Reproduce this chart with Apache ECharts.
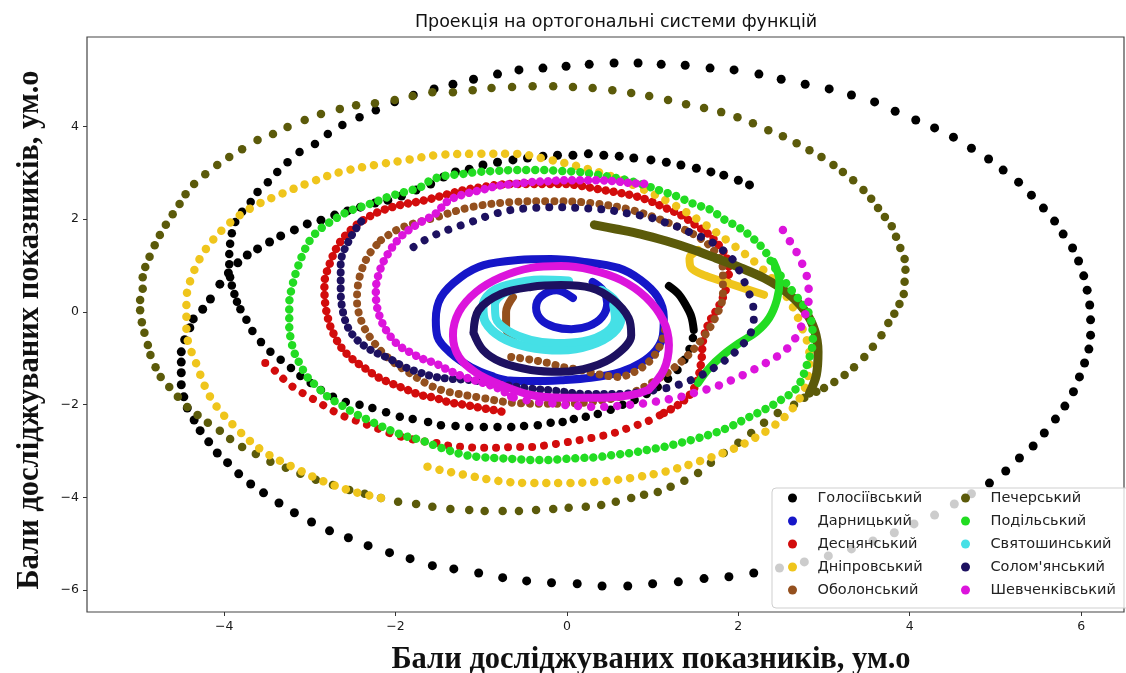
<!DOCTYPE html>
<html><head><meta charset="utf-8">
<script src="https://cdn.jsdelivr.net/npm/echarts@6/dist/echarts.min.js"></script>
<style>html,body{margin:0;padding:0;background:#fff}#c{width:1126px;height:673px}</style>
</head><body><div id="c"></div>
<script>
const districts = ['Голосіївський','Дарницький','Деснянський','Дніпровський','Оболонський','Печерський','Подільський','Святошинський',"Солом'янський",'Шевченківський'];
const colors = ['#000000','#1616c8','#d20c0c','#efc51c','#94501e','#5b5a0a','#22dc22','#45e0e6','#1d1160','#dc14dc'];
const xTicks = [-4,-2,0,2,4,6];
const yTicks = [-6,-4,-2,0,2,4];

// Голосіївський
const blackOuter = [[-1.55,4.81],[-1.33,4.91],[-1.09,5.02],[-0.81,5.13],[-0.56,5.22],[-0.28,5.26],[-0.01,5.30],[0.26,5.34],[0.55,5.37],[0.83,5.37],[1.10,5.34],[1.38,5.32],[1.67,5.26],[1.95,5.22],[2.24,5.13],[2.50,5.02],[2.78,4.91],[3.06,4.81],[3.32,4.68],[3.59,4.53],[3.83,4.33],[4.07,4.14],[4.29,3.97],[4.51,3.77],[4.72,3.53],[4.92,3.30],[5.09,3.06],[5.27,2.80],[5.42,2.52],[5.56,2.24],[5.69,1.96],[5.79,1.68],[5.90,1.38],[5.97,1.10],[6.03,0.78],[6.07,0.47],[6.10,0.15],[6.11,-0.17],[6.11,-0.50],[6.09,-0.80],[6.04,-1.10],[5.98,-1.40],[5.91,-1.72],[5.81,-2.03],[5.70,-2.31],[5.57,-2.61],[5.44,-2.89],[5.28,-3.15],[5.12,-3.43],[4.93,-3.69],[4.72,-3.92],[4.52,-4.14],[4.29,-4.38],[4.05,-4.57],[3.82,-4.76],[3.57,-4.94],[3.32,-5.11],[3.05,-5.26],[2.77,-5.39],[2.48,-5.52],[2.18,-5.63],[1.89,-5.71],[1.60,-5.75],[1.30,-5.82],[1.00,-5.86],[0.71,-5.91],[0.41,-5.91],[0.12,-5.86],[-0.18,-5.84],[-0.47,-5.80],[-0.75,-5.73],[-1.03,-5.63],[-1.32,-5.54],[-1.57,-5.47],[-1.83,-5.32],[-2.07,-5.19],[-2.32,-5.04],[-2.55,-4.87],[-2.77,-4.72],[-2.98,-4.53],[-3.18,-4.33],[-3.36,-4.12],[-3.54,-3.90],[-3.69,-3.71],[-3.83,-3.49],[-3.96,-3.25],[-4.08,-3.04],[-4.18,-2.80],[-4.28,-2.56],[-4.35,-2.33],[-4.43,-2.07],[-4.47,-1.83],[-4.50,-1.57],[-4.50,-1.31],[-4.50,-1.08],[-4.50,-0.86],[-4.46,-0.60],[-4.40,-0.34],[-4.36,-0.15],[-4.25,0.06],[-4.16,0.28],[-4.05,0.60],[-3.95,0.84],[-3.84,1.06],[-3.73,1.23],[-3.61,1.36],[-3.47,1.51],[-3.34,1.64],[-3.18,1.77],[-3.03,1.90],[-2.87,1.98],[-2.71,2.09],[-2.56,2.18],[-2.41,2.26],[-2.24,2.35],[-2.09,2.41],[-1.93,2.50],[-1.76,2.63],[-1.59,2.76],[-1.44,2.91],[-1.30,3.02],[-1.14,3.08],[-0.98,3.17],[-0.81,3.23],[-0.63,3.28],[-0.46,3.32],[-0.28,3.36],[-0.11,3.38],[0.07,3.38],[0.25,3.41],[0.43,3.38],[0.61,3.36],[0.78,3.32],[0.98,3.28],[1.16,3.23],[1.33,3.17],[1.51,3.10],[1.68,3.02],[1.83,2.95],[2.00,2.84],[2.13,2.74]];
const blackInner = [[-1.79,4.68],[-2.01,4.53],[-2.23,4.35],[-2.42,4.20],[-2.62,4.03],[-2.79,3.84],[-2.94,3.62],[-3.12,3.45],[-3.26,3.23],[-3.38,3.02],[-3.49,2.80],[-3.61,2.59],[-3.69,2.37],[-3.79,2.16],[-3.87,1.94],[-3.91,1.70],[-3.93,1.47],[-3.94,1.25],[-3.94,1.03],[-3.93,0.75],[-3.91,0.57],[-3.88,0.39],[-3.85,0.22],[-3.81,0.06],[-3.74,-0.17],[-3.67,-0.41],[-3.57,-0.65],[-3.46,-0.86],[-3.34,-1.03],[-3.22,-1.21],[-3.11,-1.38],[-2.99,-1.53],[-2.87,-1.68],[-2.73,-1.83],[-2.58,-1.94],[-2.42,-2.00],[-2.27,-2.07],[-2.11,-2.16],[-1.95,-2.26],[-1.80,-2.31],[-1.62,-2.37],[-1.47,-2.44],[-1.30,-2.46],[-1.14,-2.48],[-0.97,-2.48],[-0.81,-2.48],[-0.65,-2.48],[-0.50,-2.46],[-0.34,-2.44],[-0.19,-2.39],[-0.05,-2.37],[0.08,-2.31],[0.22,-2.26],[0.36,-2.20],[0.51,-2.11],[0.65,-2.00],[0.79,-1.90],[0.93,-1.77],[1.06,-1.62],[1.18,-1.44],[1.29,-1.25],[1.37,-1.03],[1.43,-0.80],[1.47,-0.56]];
const blackCore = [[1.48,-0.39],[1.45,-0.09],[1.38,0.17],[1.30,0.39],[1.19,0.56]];

// Дарницький
const blueOuter = [[-0.71,-1.47],[-0.85,-1.40],[-1.12,-1.19],[-1.36,-0.88],[-1.51,-0.54],[-1.53,-0.17],[-1.47,0.32],[-1.24,0.75],[-0.97,1.01],[-0.57,1.12],[-0.19,1.14],[0.20,1.08],[0.60,0.95],[0.86,0.69],[1.06,0.32],[1.13,-0.11],[1.12,-0.50],[1.04,-0.82],[0.86,-1.10],[0.63,-1.29],[0.28,-1.42],[-0.07,-1.47],[-0.42,-1.49],[-0.71,-1.47]];
const blueInner = [[0.07,0.30],[-0.12,0.47],[-0.30,0.34],[-0.36,0.09],[-0.30,-0.17],[-0.15,-0.32],[0.05,-0.37],[0.26,-0.30],[0.41,-0.11],[0.47,0.19],[0.42,0.47],[0.30,0.65]];

// Деснянський
const redOuter = [[-3.52,-1.10],[-3.38,-1.31],[-3.26,-1.53],[-3.11,-1.72],[-2.94,-1.90],[-2.79,-2.07],[-2.64,-2.22],[-2.48,-2.33],[-2.32,-2.44],[-2.17,-2.54],[-2.01,-2.65],[-1.86,-2.72],[-1.71,-2.78],[-1.54,-2.82],[-1.36,-2.89],[-1.18,-2.91],[-1.00,-2.93],[-0.81,-2.93],[-0.62,-2.91],[-0.42,-2.91],[-0.22,-2.87],[-0.04,-2.82],[0.16,-2.76],[0.36,-2.69],[0.55,-2.61],[0.75,-2.48],[0.95,-2.35],[1.13,-2.18]];
const redInner = [[1.13,-2.18],[1.30,-2.00],[1.45,-1.75],[1.53,-1.42],[1.57,-1.03],[1.59,-0.60],[1.66,-0.22],[1.78,0.15],[1.87,0.58],[1.89,0.91],[1.86,1.19],[1.76,1.47],[1.65,1.68],[1.48,1.90],[1.33,2.09],[1.13,2.26],[0.95,2.41],[0.75,2.52],[0.55,2.59],[0.36,2.65],[0.16,2.72],[-0.04,2.76],[-0.22,2.76],[-0.42,2.76],[-0.62,2.76],[-0.81,2.74],[-1.00,2.69],[-1.20,2.63],[-1.39,2.54],[-1.59,2.44],[-1.76,2.37],[-1.94,2.31],[-2.17,2.18],[-2.36,2.00],[-2.52,1.77],[-2.66,1.47],[-2.77,1.03],[-2.83,0.60],[-2.82,0.17],[-2.77,-0.26],[-2.71,-0.52],[-2.64,-0.75],[-2.52,-0.99],[-2.36,-1.21],[-2.21,-1.40],[-2.06,-1.53],[-1.86,-1.68],[-1.71,-1.79],[-1.54,-1.85],[-1.39,-1.94],[-1.20,-2.00],[-1.00,-2.07],[-0.81,-2.13],[-0.69,-2.18]];

// Дніпровський
const yellowOuter = [[-2.17,-4.01],[-2.48,-3.88],[-2.83,-3.66],[-3.18,-3.36],[-3.53,-3.02],[-3.84,-2.54],[-4.14,-1.90],[-4.32,-1.14],[-4.44,-0.39],[-4.44,0.26],[-4.37,0.80],[-4.22,1.34],[-3.96,1.88],[-3.67,2.26],[-3.34,2.54],[-2.99,2.80],[-2.64,3.02],[-2.24,3.17],[-1.86,3.28],[-1.53,3.38],[-1.06,3.41],[-0.60,3.41],[-0.25,3.30],[0.11,3.15],[0.51,2.93],[0.86,2.67],[1.21,2.35],[1.57,1.94],[1.92,1.47],[2.27,0.95],[2.56,0.34],[2.73,-0.28],[2.83,-0.93],[2.79,-1.57],[2.62,-2.11],[2.38,-2.50],[2.11,-2.80],[1.92,-2.97],[1.53,-3.23],[1.13,-3.45],[0.75,-3.58],[0.36,-3.66],[-0.04,-3.69],[-0.42,-3.69],[-0.81,-3.64],[-1.20,-3.51],[-1.47,-3.41],[-1.66,-3.32]];
const yellowHook = [[1.53,1.34],[1.43,1.16],[1.45,0.95],[1.62,0.78],[1.92,0.60],[2.30,0.37]];

// Оболонський
const brownOuter = [[-2.17,1.55],[-1.94,1.81],[-1.55,2.03],[-1.12,2.26],[-0.65,2.37],[-0.19,2.39],[0.28,2.35],[0.75,2.20],[1.16,1.94],[1.51,1.64],[1.71,1.34],[1.82,0.91],[1.82,0.37],[1.73,-0.13],[1.57,-0.60],[1.33,-1.08],[1.04,-1.47],[0.69,-1.79],[0.28,-1.94],[-0.19,-1.98],[-0.62,-1.96],[-1.00,-1.85],[-1.39,-1.72],[-1.59,-1.59],[-1.86,-1.29],[-2.06,-1.03],[-2.23,-0.71],[-2.38,-0.28],[-2.45,0.26],[-2.42,0.75],[-2.32,1.21],[-2.17,1.55]];
const brownRow = [[-0.65,-0.97],[-0.42,-1.03],[-0.22,-1.10],[-0.04,-1.19],[0.16,-1.25],[0.36,-1.34],[0.60,-1.40],[0.81,-1.27],[0.98,-1.03],[1.10,-0.67],[1.16,-0.22]];
const brownArc = [[-0.63,0.32],[-0.71,0.00],[-0.71,-0.34],[-0.63,-0.62]];

// Печерський
const oliveOuter = [[-1.57,4.74],[-1.80,4.66],[-2.01,4.57],[-2.24,4.50],[-2.46,4.46],[-2.65,4.38],[-2.87,4.27],[-3.06,4.14],[-3.26,3.99],[-3.43,3.84],[-3.61,3.71],[-3.79,3.51],[-3.94,3.34],[-4.08,3.17],[-4.22,2.97],[-4.35,2.76],[-4.45,2.54],[-4.52,2.33],[-4.60,2.11],[-4.68,1.88],[-4.75,1.66],[-4.81,1.44],[-4.87,1.19],[-4.92,0.97],[-4.95,0.75],[-4.95,0.50],[-4.98,0.26],[-4.98,0.04],[-4.96,-0.22],[-4.93,-0.45],[-4.89,-0.71],[-4.86,-0.93],[-4.80,-1.19],[-4.74,-1.40],[-4.64,-1.62],[-4.54,-1.83],[-4.43,-2.05],[-4.31,-2.22],[-4.19,-2.39],[-4.05,-2.56],[-3.93,-2.74],[-3.79,-2.91],[-3.63,-3.06],[-3.46,-3.23],[-3.28,-3.36],[-3.11,-3.49],[-2.93,-3.62],[-2.73,-3.73],[-2.54,-3.84],[-2.36,-3.92],[-2.17,-4.01],[-1.97,-4.09],[-1.76,-4.14],[-1.57,-4.20],[-1.36,-4.25],[-1.14,-4.27],[-0.96,-4.29],[-0.75,-4.29],[-0.56,-4.29],[-0.36,-4.27],[-0.16,-4.25],[0.02,-4.22],[0.22,-4.20],[0.40,-4.16],[0.57,-4.09],[0.75,-4.01],[0.90,-3.94],[1.06,-3.88],[1.21,-3.77],[1.37,-3.64],[1.53,-3.47],[1.68,-3.25],[1.83,-3.04],[2.00,-2.82],[2.15,-2.61],[2.30,-2.39],[2.46,-2.18],[2.65,-2.00],[2.77,-1.85],[2.91,-1.72],[3.00,-1.64],[3.12,-1.51],[3.24,-1.36],[3.35,-1.19],[3.47,-0.97],[3.57,-0.75],[3.67,-0.50],[3.75,-0.24],[3.82,-0.04],[3.88,0.17],[3.93,0.39],[3.94,0.65],[3.95,0.91],[3.94,1.14],[3.89,1.38],[3.84,1.62],[3.79,1.85],[3.71,2.05],[3.63,2.24],[3.55,2.44],[3.46,2.63],[3.34,2.84],[3.22,3.02],[3.11,3.17],[2.97,3.34],[2.83,3.49],[2.68,3.64],[2.52,3.79],[2.35,3.92],[2.17,4.07],[1.99,4.20],[1.80,4.31],[1.60,4.40],[1.39,4.48],[1.18,4.57],[0.96,4.66],[0.75,4.72],[0.53,4.78],[0.30,4.83],[0.07,4.85],[-0.16,4.87],[-0.40,4.87],[-0.64,4.85],[-0.88,4.83],[-1.10,4.78],[-1.33,4.74]];
const oliveCore = [[0.32,1.88],[0.57,1.79],[0.86,1.68],[1.16,1.53],[1.45,1.36],[1.74,1.16],[2.03,0.95],[2.30,0.73],[2.56,0.43],[2.77,0.04],[2.89,-0.39],[2.93,-0.86],[2.91,-1.36],[2.83,-1.75]];

// Подільський
const greenOuter = [[2.62,0.47],[2.42,0.97],[2.30,1.34],[2.15,1.62],[2.00,1.83],[1.83,2.00],[1.68,2.20],[1.48,2.33],[1.30,2.48],[1.10,2.61],[0.90,2.74],[0.71,2.84],[0.51,2.91],[0.32,2.97],[0.13,3.02],[-0.07,3.04],[-0.27,3.06],[-0.46,3.06],[-0.65,3.06],[-0.85,3.04],[-1.04,3.02],[-1.24,2.97],[-1.44,2.93],[-1.59,2.84],[-1.71,2.69],[-1.89,2.59],[-2.09,2.48],[-2.24,2.37],[-2.41,2.26],[-2.56,2.16],[-2.71,2.00],[-2.85,1.83],[-2.97,1.62],[-3.06,1.34],[-3.14,0.97],[-3.20,0.60],[-3.24,0.17],[-3.24,-0.32],[-3.22,-0.60],[-3.18,-0.88],[-3.11,-1.14],[-3.03,-1.40],[-2.91,-1.62],[-2.79,-1.83],[-2.64,-2.00],[-2.48,-2.18],[-2.32,-2.33],[-2.17,-2.46],[-2.01,-2.59],[-1.86,-2.69],[-1.71,-2.76],[-1.47,-2.93],[-1.20,-3.08],[-1.00,-3.13],[-0.81,-3.15],[-0.62,-3.17],[-0.42,-3.19],[-0.22,-3.19],[-0.04,-3.17],[0.16,-3.15],[0.36,-3.13],[0.55,-3.08],[0.75,-3.04],[0.95,-2.97],[1.13,-2.91],[1.33,-2.82],[1.53,-2.72],[1.72,-2.61],[1.92,-2.46],[2.11,-2.28],[2.30,-2.11],[2.46,-1.94],[2.68,-1.64],[2.80,-1.14],[2.87,-0.60],[2.83,-0.06],[2.71,0.26],[2.62,0.47]];
const greenInner = [[1.53,-1.53],[1.66,-1.21],[1.82,-0.93],[2.01,-0.67],[2.21,-0.43],[2.36,-0.13],[2.45,0.26],[2.48,0.65],[2.41,1.08]];

// Святошинський
const cyanOuter = [[0.40,0.47],[0.57,0.22],[0.63,-0.13],[0.54,-0.45],[0.28,-0.71],[-0.07,-0.82],[-0.46,-0.75],[-0.77,-0.54],[-0.95,-0.22],[-0.98,0.11],[-0.89,0.41],[-0.69,0.58],[-0.30,0.69],[0.02,0.67]];
const cyanInner = [[0.54,0.15],[0.56,-0.13],[0.46,-0.43],[0.19,-0.63],[-0.13,-0.67],[-0.42,-0.60],[-0.68,-0.41],[-0.83,-0.13],[-0.84,0.15],[-0.76,0.37],[-0.60,0.50]];

// Солом'янський
const indigoTop = [[-1.79,1.40],[-1.59,1.62],[-1.36,1.79],[-1.12,1.94],[-0.89,2.09],[-0.65,2.20],[-0.42,2.24],[-0.22,2.26],[-0.04,2.26],[0.16,2.24],[0.36,2.22],[0.55,2.18],[0.75,2.11],[0.95,2.05],[1.13,1.94],[1.30,1.83],[1.48,1.68],[1.65,1.55],[1.80,1.36],[1.94,1.12],[2.03,0.82],[2.11,0.47],[2.17,0.17],[2.18,-0.17],[2.13,-0.50],[2.00,-0.80],[1.80,-1.10],[1.53,-1.40],[1.21,-1.62],[0.90,-1.72]];
const indigoBottom = [[0.90,-1.72],[0.57,-1.77],[0.22,-1.77],[-0.13,-1.70],[-0.48,-1.64],[-0.81,-1.55],[-1.12,-1.47],[-1.36,-1.44],[-1.54,-1.40],[-1.71,-1.31],[-1.89,-1.19],[-2.09,-0.99],[-2.29,-0.82],[-2.48,-0.54],[-2.59,-0.17],[-2.64,0.47],[-2.64,1.03],[-2.52,1.62],[-2.36,2.05]];
const indigoInner = [[-1.09,-0.45],[-1.03,0.04],[-0.77,0.39],[-0.42,0.54],[-0.07,0.58],[0.28,0.52],[0.54,0.26],[0.72,-0.13],[0.75,-0.50],[0.57,-0.93],[0.28,-1.19],[-0.07,-1.29],[-0.42,-1.25],[-0.77,-1.08],[-0.98,-0.82],[-1.09,-0.45]];

// Шевченківський
const magentaOuter = [[2.52,1.77],[2.62,1.47],[2.71,1.19],[2.77,0.91],[2.82,0.60],[2.82,0.26],[2.77,-0.11],[2.70,-0.45],[2.59,-0.75],[2.46,-0.95],[2.30,-1.12],[2.11,-1.31],[1.92,-1.47],[1.72,-1.62],[1.53,-1.72],[1.33,-1.83],[1.13,-1.90],[0.95,-1.96],[0.75,-2.00],[0.55,-2.03],[0.36,-2.05],[0.16,-2.03],[-0.04,-2.00],[-0.22,-1.96],[-0.42,-1.92],[-0.65,-1.83]];
const magentaRing = [[-0.65,-1.83],[-0.81,-1.64],[-1.20,-1.40],[-1.41,-1.23],[-1.54,-1.10],[-1.66,-1.03],[-1.82,-0.88],[-1.97,-0.71],[-2.09,-0.45],[-2.17,-0.17],[-2.22,0.15],[-2.23,0.47],[-2.18,0.91],[-2.09,1.25],[-1.94,1.62],[-1.74,1.90],[-1.54,2.11],[-1.39,2.39],[-1.20,2.54],[-1.00,2.63],[-0.81,2.72],[-0.62,2.76],[-0.42,2.80],[-0.22,2.82],[-0.04,2.84],[0.16,2.84],[0.36,2.84],[0.55,2.82],[0.75,2.78],[0.95,2.76]];
const magentaInner = [[0.95,-1.68],[1.13,-1.25],[1.19,-0.71],[1.12,-0.17],[0.92,0.32],[0.63,0.69],[0.28,0.91],[-0.07,0.99],[-0.42,0.95],[-0.77,0.75],[-1.06,0.43],[-1.26,0.00],[-1.33,-0.50],[-1.26,-0.97],[-1.06,-1.31],[-0.77,-1.57],[-0.42,-1.79],[-0.04,-1.85],[0.36,-1.85],[0.75,-1.79],[0.95,-1.68]];

function col(name){ return colors[districts.indexOf(name)]; }
function scat(name, data, size){
  return {type:'scatter', name, data, symbolSize:size, itemStyle:{color:col(name), opacity:1}, color:col(name), silent:true};
}
function dots(name, data, gap, width){
  return {type:'line', name, data, smooth:0.35, showSymbol:false, symbol:'none', color:col(name), itemStyle:{color:col(name)},
    lineStyle:{color:col(name), width:width, type:[0.01, gap], cap:'round', join:'round'}, silent:true};
}
function solid(name, data, width){
  return {type:'line', name, data, smooth:0.35, showSymbol:false, symbol:'none', color:col(name), itemStyle:{color:col(name)},
    lineStyle:{color:col(name), width:width, type:'solid', cap:'round', join:'round'}, silent:true};
}
const D = districts;
const series = [
  scat(D[0], blackOuter, 9), scat(D[0], blackInner, 8.5), solid(D[0], blackCore, 8),
  solid(D[1], blueOuter, 8), solid(D[1], blueInner, 8),
  dots(D[2], redOuter, 12, 8), dots(D[2], redInner, 8, 8.5),
  dots(D[3], yellowOuter, 12, 8.5), solid(D[3], yellowHook, 8),
  dots(D[4], brownOuter, 9, 8), dots(D[4], brownRow, 9, 8), solid(D[4], brownArc, 8),
  scat(D[5], oliveOuter, 8.5), solid(D[5], oliveCore, 9),
  dots(D[6], greenOuter, 9, 8.5), solid(D[6], greenInner, 8),
  solid(D[7], cyanOuter, 9), solid(D[7], cyanInner, 8),
  dots(D[8], indigoTop, 13, 8), dots(D[8], indigoBottom, 8, 8), solid(D[8], indigoInner, 8),
  dots(D[9], magentaOuter, 13, 8.5), dots(D[9], magentaRing, 8, 8.5), solid(D[9], magentaInner, 8)
];

const minus = v => (v < 0 ? '\u2212' + Math.abs(v) : String(v));
const legendBase = {orient:'vertical', icon:'circle', itemWidth:40, itemHeight:9, itemGap:7, selectedMode:false,
  textStyle:{fontFamily:'DejaVu Sans', fontSize:14.5, color:'#222', lineHeight:16}, z:6};
const chart = echarts.init(document.getElementById('c'), null, {renderer:'canvas'});
chart.setOption({
  animation:false,
  backgroundColor:'#ffffff',
  title:{text:'Проекція на ортогональні системи функцій', left:611, top:8, textAlign:'center',
    textStyle:{fontFamily:'DejaVu Sans', fontSize:17.5, fontWeight:'normal', color:'#111'}},
  grid:{left:87, right:2, top:37, bottom:61, show:true, borderColor:'#444', borderWidth:1.2, backgroundColor:'transparent'},
  xAxis:{type:'value', min:-5.6, max:6.5, splitLine:{show:false}, axisLine:{show:false, onZero:false},
    axisTick:{show:true, inside:false, length:4, customValues:xTicks, lineStyle:{color:'#333'}},
    axisLabel:{customValues:xTicks, formatter:minus, margin:8, fontFamily:'DejaVu Sans', fontSize:12.5, color:'#1a1a1a'}},
  yAxis:{type:'value', min:-6.47, max:5.93, splitLine:{show:false}, axisLine:{show:false, onZero:false},
    axisTick:{show:true, inside:false, length:4, customValues:yTicks, lineStyle:{color:'#333'}},
    axisLabel:{customValues:yTicks, formatter:minus, margin:8, fontFamily:'DejaVu Sans', fontSize:12.5, color:'#1a1a1a'}},
  legend:[
    Object.assign({left:783, top:485, data:D.slice(0,5)}, legendBase),
    Object.assign({left:956, top:485, data:D.slice(5,10)}, legendBase)
  ],
  graphic:[
    {type:'rect', z:5, shape:{x:772, y:488, width:360, height:120, r:4}, style:{fill:'rgba(255,255,255,0.8)', stroke:'#cfcfcf', lineWidth:1}},
    {type:'text', z:5, x:651, y:660, style:{text:'Бали досліджуваних показників, ум.о', font:'bold 30.5px "Liberation Serif"', fill:'#111', textAlign:'center', textVerticalAlign:'middle'}},
    {type:'text', z:5, x:30, y:330, rotation:Math.PI/2, style:{text:'Бали досліджуваних показників, ум.о', font:'bold 30.5px "Liberation Serif"', fill:'#111', textAlign:'center', textVerticalAlign:'middle'}}
  ],
  series: series
});
</script></body></html>
